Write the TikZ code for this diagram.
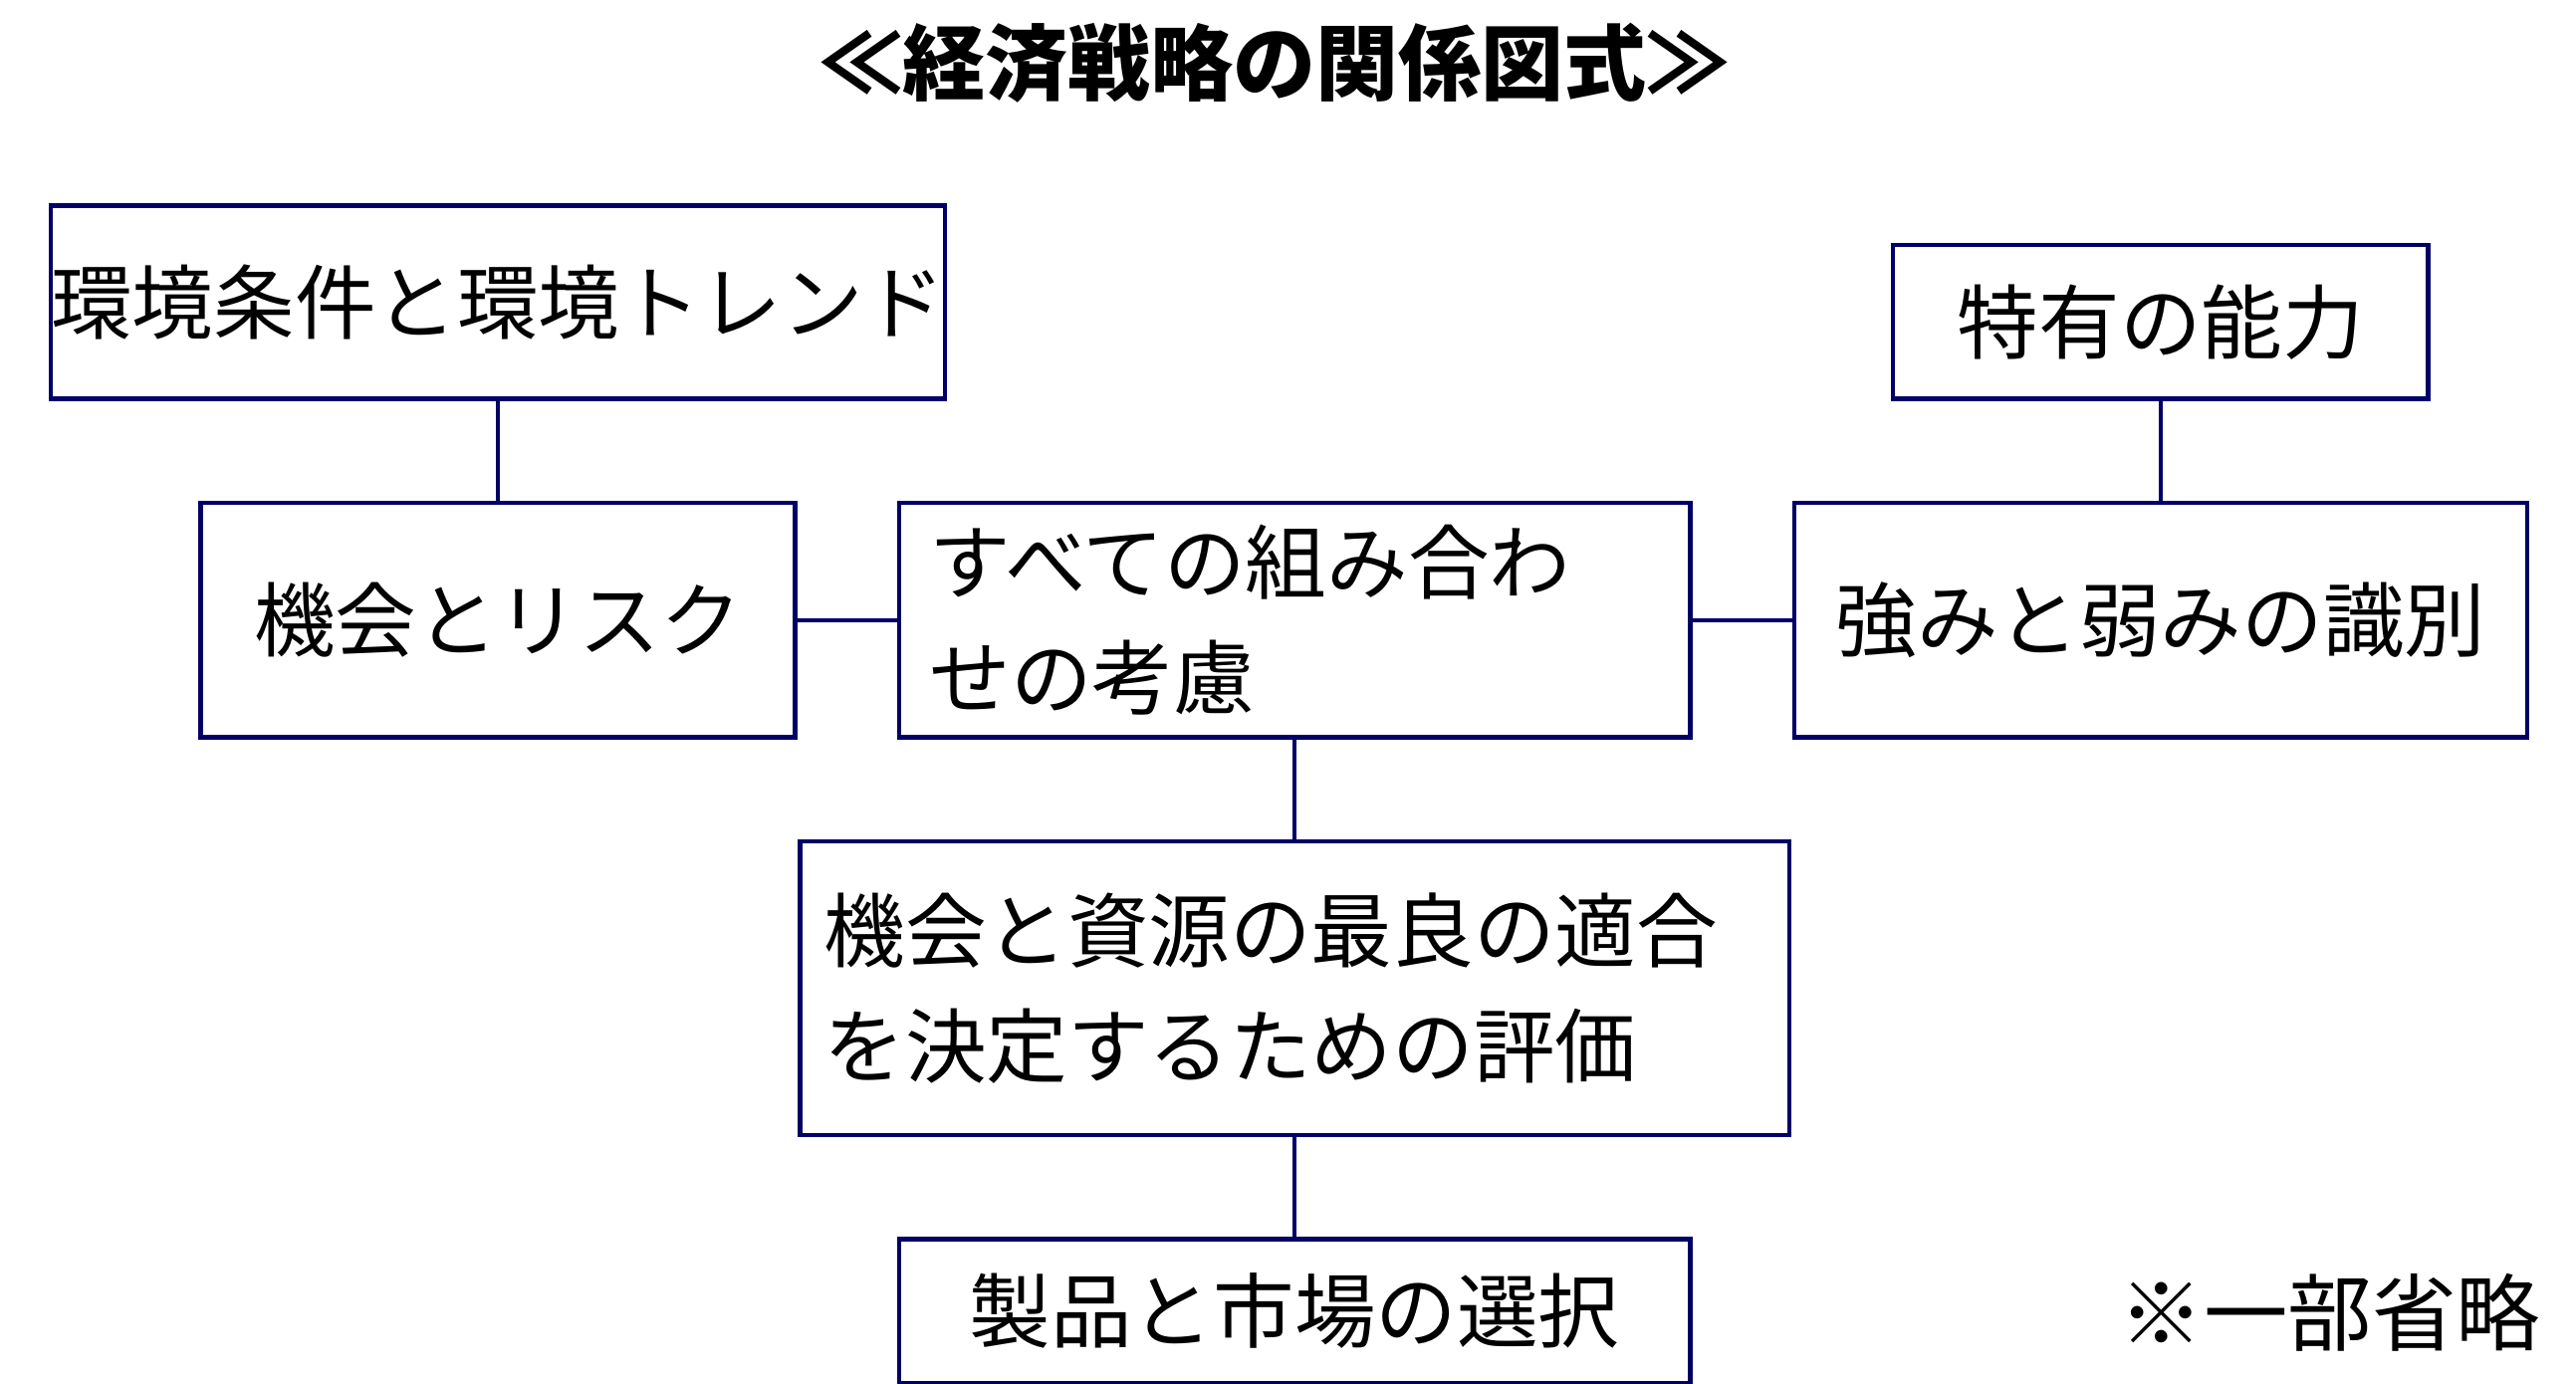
\documentclass[tikz,border=0pt]{standalone}
\usepackage{fontspec}
\setmainfont{Noto Sans CJK JP}
\begin{document}
\begin{tikzpicture}[x=0.02cm,y=-0.02cm]
	\tikzset{box/.style={draw=blue!40!black,line width=1.5pt,inner sep=0pt,font=\fontsize{28}{40}\selectfont},
		link/.style={draw=blue!40!black,line width=1.5pt}}
	\useasboundingbox (0,0) rectangle (1560,838);
	% title
	\node[font=\fontsize{28.5}{30}\selectfont\bfseries] (title) at (772,38) {≪経済戦略の関係図式≫};
	% boxes
	\node[box,minimum width=540*0.02cm,minimum height=117*0.02cm] (env) at (301.5,183) {環境条件と環境トレンド};
	\node[box,minimum width=324*0.02cm,minimum height=93*0.02cm] (abil) at (1308.5,195) {特有の能力};
	\node[box,minimum width=360*0.02cm,minimum height=142*0.02cm] (risk) at (301.5,375.5) {機会とリスク};
	\node[box,minimum width=479*0.02cm,minimum height=142*0.02cm,text width=442*0.02cm,align=left] (comb) at (784,375.5) {すべての組み合わ\\せの考慮};
	\node[box,minimum width=444*0.02cm,minimum height=142*0.02cm] (swot) at (1308.5,375.5) {強みと弱みの識別};
	\node[box,minimum width=599*0.02cm,minimum height=178*0.02cm,text width=570*0.02cm,align=left] (eval) at (784,598.5) {機会と資源の最良の適合\\を決定するための評価};
	\node[box,minimum width=479*0.02cm,minimum height=87*0.02cm] (sel) at (784,794) {製品と市場の選択};
	\node[font=\fontsize{29}{30}\selectfont] (note) at (1411,795) {※一部省略};
	% links
	\draw[link] (env.south) -- (risk.north);
	\draw[link] (abil.south) -- (swot.north);
	\draw[link] (risk.east) -- (comb.west);
	\draw[link] (comb.east) -- (swot.west);
	\draw[link] (comb.south) -- (eval.north);
	\draw[link] (eval.south) -- (sel.north);
\end{tikzpicture}
\end{document}
